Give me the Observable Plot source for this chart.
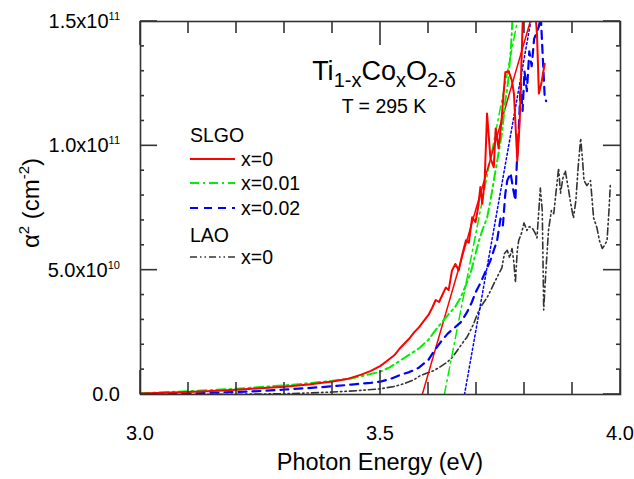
<!DOCTYPE html>
<html><head><meta charset="utf-8">
<script src="https://cdn.jsdelivr.net/npm/d3@7"></script>
<script src="https://cdn.jsdelivr.net/npm/@observablehq/plot@0.6"></script>
<style>body{margin:0;background:#fff} svg{display:block}</style>
</head><body><div id="chart"></div>
<script>
// alpha^2 in units of 1e10 cm^-2 versus photon energy (eV)
const slgo0 = [[3.00,0.04],[3.05,0.07],[3.10,0.1],[3.15,0.14],[3.20,0.19],[3.25,0.25],[3.30,0.31],[3.35,0.4],[3.40,0.52],[3.43,0.62],[3.46,0.8],[3.48,0.95],[3.50,1.15],[3.51,1.3],[3.52,1.45],[3.53,1.6],[3.54,1.85],[3.55,2.05],[3.56,2.25],[3.57,2.5],[3.58,2.7],[3.59,2.95],[3.60,3.2],[3.608,3.5],[3.615,3.8],[3.622,3.72],[3.63,4.05],[3.636,4.3],[3.642,4.2],[3.649,4.99],[3.656,5.25],[3.663,4.99],[3.67,5.6],[3.678,6.2],[3.684,6.1],[3.691,7.13],[3.698,6.93],[3.704,7.6],[3.708,8.34],[3.712,7.67],[3.717,8.6],[3.722,11.3],[3.729,9.5],[3.736,9.14],[3.74,10.7],[3.746,9.9],[3.752,11.0],[3.76,12.96],[3.767,13.0],[3.774,12.6],[3.778,12.1],[3.785,9.4],[3.79,11.0],[3.797,15.5],[3.81,16],[3.822,15.5],[3.826,14.5],[3.83,12.1],[3.836,12.6],[3.842,13.3]];
const slgo001 = [[3.00,0.05],[3.05,0.09],[3.10,0.13],[3.15,0.18],[3.20,0.23],[3.25,0.3],[3.30,0.37],[3.35,0.45],[3.40,0.55],[3.44,0.65],[3.47,0.78],[3.50,0.92],[3.52,1.1],[3.54,1.35],[3.56,1.6],[3.58,1.85],[3.60,2.2],[3.615,2.6],[3.63,2.95],[3.645,3.3],[3.655,3.5],[3.667,3.9],[3.678,4.4],[3.688,4.9],[3.696,5.5],[3.704,6.1],[3.712,6.6],[3.722,7.1],[3.73,7.9],[3.736,8.6],[3.745,9.6],[3.753,10.5],[3.76,11.8],[3.766,12.6],[3.772,14.0],[3.776,15.5],[3.782,16],[3.788,15.2],[3.792,16]];
const slgo002 = [[3.00,0.0],[3.05,0.02],[3.10,0.04],[3.15,0.07],[3.20,0.1],[3.25,0.14],[3.30,0.2],[3.35,0.26],[3.40,0.33],[3.44,0.4],[3.48,0.47],[3.50,0.52],[3.52,0.62],[3.54,0.78],[3.56,0.9],[3.58,1.08],[3.60,1.4],[3.61,1.7],[3.625,2.1],[3.64,2.45],[3.655,2.7],[3.667,2.9],[3.68,3.3],[3.69,3.7],[3.698,4.1],[3.706,4.4],[3.712,4.65],[3.72,5.0],[3.729,5.39],[3.736,5.8],[3.743,6.2],[3.75,7.07],[3.755,6.8],[3.76,8.07],[3.764,8.6],[3.771,8.9],[3.776,8.3],[3.781,7.8],[3.784,9.3],[3.788,10.6],[3.792,12.5],[3.796,11.4],[3.8,13.0],[3.805,12.2],[3.81,13.8],[3.815,13.2],[3.82,14.3],[3.826,14.6],[3.83,14.8],[3.834,15.2],[3.838,13.6],[3.842,12.0],[3.845,11.8]];
const lao0 = [[3.00,0.0],[3.10,0.0],[3.20,0.01],[3.30,0.03],[3.35,0.06],[3.40,0.1],[3.45,0.15],[3.50,0.23],[3.53,0.33],[3.55,0.44],[3.57,0.6],[3.583,0.76],[3.60,0.88],[3.611,0.96],[3.625,1.12],[3.639,1.3],[3.65,1.5],[3.66,1.77],[3.67,2.05],[3.68,2.3],[3.688,2.6],[3.694,2.84],[3.70,3.15],[3.708,3.5],[3.715,3.7],[3.722,3.9],[3.73,4.2],[3.736,4.45],[3.745,4.8],[3.753,5.1],[3.758,5.66],[3.764,5.8],[3.769,5.5],[3.774,5.87],[3.778,5.3],[3.781,4.5],[3.785,5.8],[3.788,6.2],[3.794,6.5],[3.799,6.9],[3.805,6.6],[3.81,6.75],[3.816,6.7],[3.822,6.5],[3.826,6.3],[3.833,8.3],[3.837,7.4],[3.84,3.4],[3.844,4.8],[3.85,6.6],[3.856,7.4],[3.861,7.27],[3.866,8.2],[3.871,9.1],[3.875,8.1],[3.88,8.7],[3.885,9.0],[3.892,8.2],[3.897,7.6],[3.902,7.1],[3.907,7.8],[3.912,9.2],[3.917,10.3],[3.921,9.4],[3.924,8.6],[3.93,8.4],[3.9375,8.6],[3.944,7.1],[3.951,6.7],[3.956,6.2],[3.962,5.87],[3.967,6.0],[3.972,6.2],[3.976,7.4],[3.979,8.5]];
// linear extrapolation lines (band-gap fits)
const fit0 = [[3.587,0],[3.812,15]];
const fit001 = [[3.633,0],[3.785,15]];
const fit002 = [[3.675,0],[3.813,15]];
// ticks
const xMajor = [3.0, 3.5, 4.0];
const xMajorLabels = ["3.0", "3.5", "4.0"];
const xMinor = [3.1, 3.2, 3.3, 3.4, 3.6, 3.7, 3.8, 3.9];
const yMajor = [0, 5, 10, 15];
const yMajorLabels = [["0.0", ""], ["5.0x10", "10"], ["1.0x10", "11"], ["1.5x10", "11"]];
const yMinor = [1,2,3,4,6,7,8,9,11,12,13,14];
const legendItems = [
  {group: "SLGO"},
  {label: "x=0", color: "#ff0000", dash: null, width: 2},
  {label: "x=0.01", color: "#00ee00", dash: "9,4,2,4", width: 2},
  {label: "x=0.02", color: "#0000ff", dash: "8,6", width: 2},
  {group: "LAO"},
  {label: "x=0", color: "#333333", dash: "7,3,1.5,3,1.5,3", width: 1.6}
];

const font = "'Liberation Sans', Arial, sans-serif";
const plot = Plot.plot({
  width: 634, height: 479,
  marginLeft: 140, marginRight: 14, marginTop: 21, marginBottom: 85,
  x: {domain: [3, 4], axis: null},
  y: {domain: [0, 15], axis: null},
  style: {background: "white", fontFamily: font},
  marks: [
    Plot.line(lao0, {stroke: "#333333", strokeWidth: 1.6, strokeDasharray: "7,3,1.5,3,1.5,3", clip: true}),
    Plot.line(fit002, {stroke: "#0000ff", strokeWidth: 1.5, strokeDasharray: "2,2.5", clip: true}),
    Plot.line(fit001, {stroke: "#00ee00", strokeWidth: 1.5, strokeDasharray: "9,4,2,4", clip: true}),
    Plot.line(fit0, {stroke: "#ff0000", strokeWidth: 1.5, clip: true}),
    Plot.line(slgo002, {stroke: "#0000ff", strokeWidth: 2.2, strokeDasharray: "8,6", clip: true}),
    Plot.line(slgo001, {stroke: "#00ee00", strokeWidth: 2, strokeDasharray: "9,4,2,4", clip: true}),
    Plot.line(slgo0, {stroke: "#ff0000", strokeWidth: 2, clip: true}),
    Plot.frame({stroke: "#333", strokeWidth: 1.6})
  ]
});
document.getElementById("chart").append(plot);

const svg = d3.select(plot);
const xs = plot.scale("x"), ys = plot.scale("y");
const sx = d3.scaleLinear(xs.domain, xs.range);
const sy = d3.scaleLinear(ys.domain, ys.range);
const [x0, x1] = xs.range, [y0, y1] = ys.range; // y0 bottom, y1 top
const g = svg.append("g").attr("stroke", "#333").attr("stroke-width", 1.6);
for (const v of xMajor) {
  g.append("line").attr("x1", sx(v)).attr("x2", sx(v)).attr("y1", y0).attr("y2", y0 - 24);
  g.append("line").attr("x1", sx(v)).attr("x2", sx(v)).attr("y1", y1).attr("y2", y1 + 24);
}
for (const v of xMinor) {
  g.append("line").attr("x1", sx(v)).attr("x2", sx(v)).attr("y1", y0).attr("y2", y0 - 12);
  g.append("line").attr("x1", sx(v)).attr("x2", sx(v)).attr("y1", y1).attr("y2", y1 + 12);
}
for (const v of yMajor) {
  g.append("line").attr("x1", x0).attr("x2", x0 + 17).attr("y1", sy(v)).attr("y2", sy(v));
  g.append("line").attr("x1", x1).attr("x2", x1 - 17).attr("y1", sy(v)).attr("y2", sy(v));
}
for (const v of yMinor) {
  g.append("line").attr("x1", x0).attr("x2", x0 + 4).attr("y1", sy(v)).attr("y2", sy(v));
  g.append("line").attr("x1", x1).attr("x2", x1 - 4).attr("y1", sy(v)).attr("y2", sy(v));
}
const t = svg.append("g").attr("font-family", font).attr("fill", "#000").attr("text-anchor", "start");
xMajor.forEach((v, i) => {
  t.append("text").attr("x", sx(v)).attr("y", y0 + 46).attr("text-anchor", "middle")
    .attr("font-size", 20).text(xMajorLabels[i]);
});
yMajor.forEach((v, i) => {
  const [m, e] = yMajorLabels[i];
  const tx = t.append("text").attr("x", x0 - 20).attr("y", sy(v) + 7).attr("text-anchor", "end").attr("font-size", 20);
  tx.append("tspan").text(m);
  if (e) tx.append("tspan").attr("dy", -8).attr("font-size", 11).text(e);
});
t.append("text").attr("x", (x0 + x1) / 2).attr("y", 470).attr("text-anchor", "middle")
  .attr("font-size", 23.5).text("Photon Energy (eV)");
const yl = t.append("text").attr("transform", "translate(39,203) rotate(-90)")
  .attr("text-anchor", "middle").attr("font-size", 24);
yl.append("tspan").text("α");
yl.append("tspan").attr("dy", -10).attr("font-size", 15).text("2");
yl.append("tspan").attr("dy", 10).text(" (cm");
yl.append("tspan").attr("dy", -10).attr("font-size", 15).text("-2");
yl.append("tspan").attr("dy", 10).text(")");
const ti = t.append("text").attr("x", 384).attr("y", 80).attr("text-anchor", "middle").attr("font-size", 27);
ti.append("tspan").text("Ti");
ti.append("tspan").attr("dy", 7).attr("font-size", 20).text("1-x");
ti.append("tspan").attr("dy", -7).text("Co");
ti.append("tspan").attr("dy", 7).attr("font-size", 20).text("x");
ti.append("tspan").attr("dy", -7).text("O");
ti.append("tspan").attr("dy", 7).attr("font-size", 20).text("2-δ");
t.append("text").attr("x", 384).attr("y", 113).attr("text-anchor", "middle").attr("font-size", 19.5).text("T = 295 K");
const rowY = [135, 159, 183, 208, 235, 257];
legendItems.forEach((d, i) => {
  const y = rowY[i];
  if (d.group) {
    t.append("text").attr("x", 190).attr("y", y + 7).attr("font-size", 19.5).text(d.group);
  } else {
    const ln = svg.append("line").attr("x1", 190).attr("x2", 235).attr("y1", y).attr("y2", y)
      .attr("stroke", d.color).attr("stroke-width", d.width);
    if (d.dash) ln.attr("stroke-dasharray", d.dash);
    t.append("text").attr("x", 241).attr("y", y + 7).attr("font-size", 19.5).text(d.label);
  }
});
</script>
</body></html>
